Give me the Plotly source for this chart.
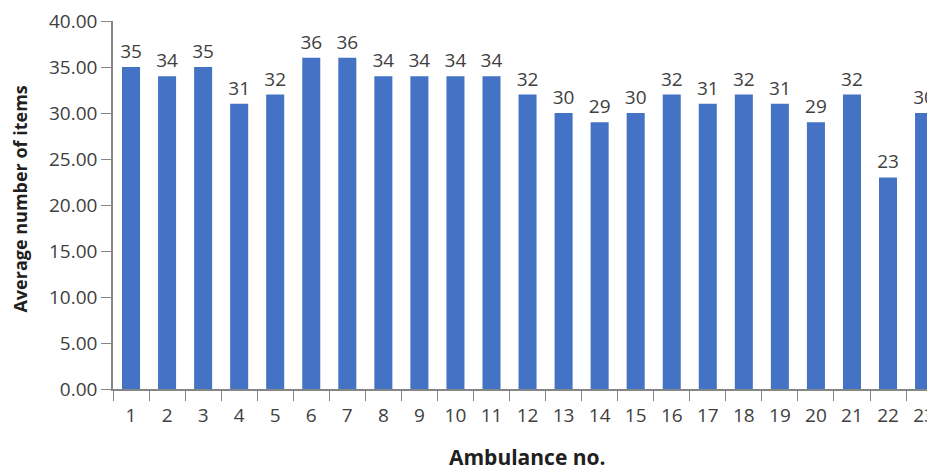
import plotly.graph_objects as go

ambulances = [str(i) for i in range(1, 24)]
avg_items = [35, 34, 35, 31, 32, 36, 36, 34, 34, 34, 34, 32, 30, 29, 30,
             32, 31, 32, 31, 29, 32, 23, 30]
y_ticks = [0, 5, 10, 15, 20, 25, 30, 35, 40]

FONT = "Open Sans, Noto Sans, sans-serif"
GREY = "#404040"
AXIS = "#868686"

fig = go.Figure(
    go.Bar(
        x=ambulances,
        y=avg_items,
        text=avg_items,
        textposition="outside",
        constraintext="none",
        textfont=dict(size=19, color=GREY, family=FONT),
        marker=dict(color="#4472C4", line=dict(width=0)),
        cliponaxis=True,
    )
)

fig.update_xaxes(
    type="category",
    range=[-0.5, 22.22],
    showline=True,
    linecolor=AXIS,
    linewidth=1.5,
    ticks="outside",
    tickson="boundaries",
    ticklen=10,
    tickcolor=AXIS,
    ticklabelstandoff=8,
    ticklabeloverflow="allow",
    tickfont=dict(size=19, color=GREY, family=FONT),
    showgrid=False,
)
fig.update_yaxes(
    range=[0, 40],
    tickvals=y_ticks,
    tickformat=".2f",
    showline=True,
    linecolor=AXIS,
    linewidth=1.5,
    ticks="outside",
    ticklen=10,
    tickcolor=AXIS,
    ticklabeloverflow="allow",
    tickfont=dict(size=19, color=GREY, family=FONT),
    showgrid=False,
    zeroline=False,
)

# page body adds an 8px margin, so sizes are trimmed to keep the plot in place
fig.update_layout(
    width=927,
    height=463,
    margin=dict(l=105, r=0, t=11, b=82, pad=0),
    plot_bgcolor="white",
    paper_bgcolor="white",
    bargap=0.5,
    showlegend=False,
    annotations=[
        dict(
            text="<b>Ambulance no.</b>",
            x=0.506, y=-0.185, xref="paper", yref="paper",
            xanchor="center", yanchor="middle", showarrow=False,
            borderpad=0,
            font=dict(size=21, color="#202020", family=FONT),
        ),
        dict(
            text="<b>Average number of items</b>",
            x=-0.113, y=0.516, xref="paper", yref="paper",
            xanchor="center", yanchor="middle", showarrow=False,
            textangle=-90,
            font=dict(size=18, color="#202020", family=FONT),
        ),
    ],
)

fig.write_html("out.html")
